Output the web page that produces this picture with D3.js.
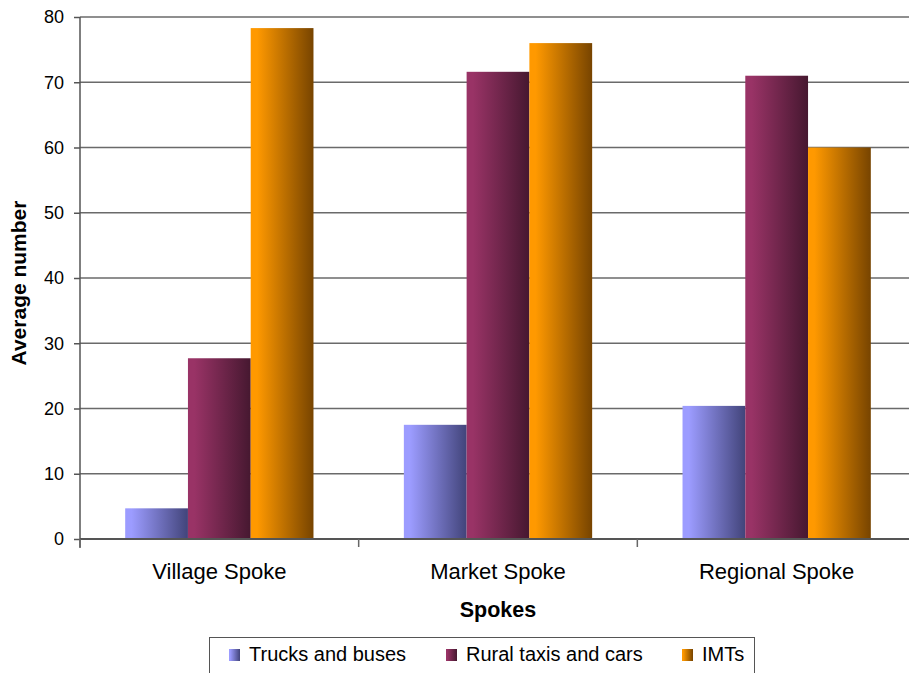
<!DOCTYPE html>
<html><head><meta charset="utf-8">
<script src="https://cdn.jsdelivr.net/npm/d3@7/dist/d3.min.js"></script>
<style>body{margin:0;background:#fff;} svg{display:block;font-family:"Liberation Sans",Arial,sans-serif;}</style>
</head><body>
<svg id="c" width="909" height="673"></svg>
<script>
const categories = ["Village Spoke", "Market Spoke", "Regional Spoke"];
const seriesNames = ["Trucks and buses", "Rural taxis and cars", "IMTs"];
const trucks = [4.7, 17.5, 20.4];
const taxis = [27.7, 71.6, 71.0];
const imts = [78.3, 76.0, 60.0];
const yTicks = [0, 10, 20, 30, 40, 50, 60, 70, 80];
const gradStops = [["#9c9cff", "#42447a"], ["#993366", "#461830"], ["#ff9900", "#774400"]];

const seriesValues = [trucks, taxis, imts];
const svg = d3.select("#c");
const pLeft = 80, pRight = 916, pTop = 17, pBottom = 539;

const x = d3.scaleBand().domain(categories).range([pLeft, pRight]).paddingInner(0).paddingOuter(0);
const xs = d3.scaleBand().domain(seriesNames).range([0, x.bandwidth()]).paddingInner(0).paddingOuter(0.72);
const y = d3.scaleLinear().domain([0, 80]).range([pBottom, pTop]);

const defs = svg.append("defs");
gradStops.forEach((g, i) => {
  const lg = defs.append("linearGradient").attr("id", "g" + i).attr("x1", 0).attr("x2", 1).attr("y1", 0).attr("y2", 0);
  lg.append("stop").attr("offset", "0").attr("stop-color", g[0]);
  lg.append("stop").attr("offset", "0.1").attr("stop-color", g[0]);
  lg.append("stop").attr("offset", "1").attr("stop-color", g[1]);
});

// gridlines
svg.append("g").selectAll("line").data(yTicks.filter(d => d > 0)).join("line")
  .attr("x1", pLeft).attr("x2", 909).attr("y1", d => y(d)).attr("y2", d => y(d))
  .attr("stroke", "#6a6a6a").attr("stroke-width", 1.5);

// bars
const groups = svg.append("g").selectAll("g").data(categories).join("g")
  .attr("transform", d => `translate(${x(d)},0)`);
groups.selectAll("rect").data((c, ci) => seriesNames.map((s, si) => ({s, si, v: seriesValues[si][ci]}))).join("rect")
  .attr("x", d => xs(d.s)).attr("width", xs.bandwidth())
  .attr("y", d => y(d.v)).attr("height", d => y(0) - y(d.v))
  .attr("fill", d => `url(#g${d.si})`);

// y axis
const yAxis = svg.append("g").attr("transform", `translate(${pLeft},0)`)
  .call(d3.axisLeft(y).tickValues(yTicks).tickSize(6).tickPadding(10));
yAxis.select(".domain").remove();
yAxis.selectAll(".tick line").attr("stroke", "#555").attr("stroke-width", 1.5);
yAxis.selectAll("text").attr("font-size", 18).attr("fill", "#000").attr("font-family", "Liberation Sans, Arial, sans-serif");
svg.append("line").attr("x1", pLeft).attr("x2", pLeft).attr("y1", pTop).attr("y2", pBottom + 9)
  .attr("stroke", "#555").attr("stroke-width", 1.5);

// x axis
svg.append("line").attr("x1", pLeft).attr("x2", 909).attr("y1", pBottom).attr("y2", pBottom)
  .attr("stroke", "#555").attr("stroke-width", 2);
svg.append("g").selectAll("line").data(categories).join("line")
  .attr("x1", d => x(d)).attr("x2", d => x(d)).attr("y1", pBottom).attr("y2", pBottom + 8)
  .attr("stroke", "#666").attr("stroke-width", 1.5);
svg.append("g").selectAll("text").data(categories).join("text")
  .attr("x", d => x(d) + x.bandwidth() / 2).attr("y", 579)
  .attr("text-anchor", "middle").attr("font-size", 22).text(d => d);

// axis titles
svg.append("text").attr("x", 498).attr("y", 617).attr("text-anchor", "middle")
  .attr("font-size", 21.5).attr("font-weight", "bold").text("Spokes");
svg.append("text").attr("transform", "translate(26,283) rotate(-90)").attr("text-anchor", "middle")
  .attr("font-size", 21).attr("font-weight", "bold").text("Average number");

// legend
svg.append("rect").attr("x", 209.5).attr("y", 637.5).attr("width", 545).attr("height", 40)
  .attr("fill", "#fff").attr("stroke", "#555").attr("stroke-width", 1);
const legX = [229, 446, 682];
const leg = svg.append("g").selectAll("g").data(seriesNames).join("g")
  .attr("transform", (d, i) => `translate(${legX[i]},0)`);
leg.append("rect").attr("x", 0).attr("y", 649).attr("width", 11).attr("height", 12)
  .attr("fill", (d, i) => `url(#g${i})`);
leg.append("text").attr("x", 20).attr("y", 661).attr("font-size", 20).text(d => d);
</script>
</body></html>
